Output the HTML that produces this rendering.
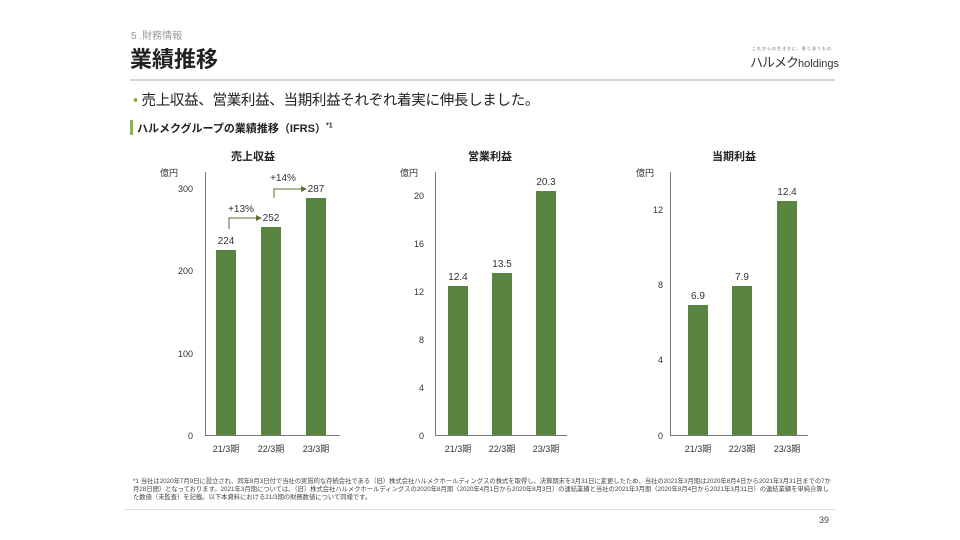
<!DOCTYPE html><html><head><meta charset="utf-8"><style>
body{margin:0;width:960px;height:540px;background:#fff;font-family:"Liberation Sans","Noto Sans CJK JP",sans-serif;position:relative;overflow:hidden}
.a{position:absolute;white-space:nowrap}
</style></head><body>
<div class="a" style="left:131px;top:27px;font-size:10px;color:#999">5 .財務情報</div>
<div class="a" style="left:130px;top:42px;font-size:22px;font-weight:bold;color:#222">業績推移</div>
<div class="a" style="left:752px;top:46px;font-size:4px;color:#666;letter-spacing:1px">これからの生き方に、寄り添うもの</div>
<div class="a" style="left:750px;top:52px;font-size:13px;color:#333;letter-spacing:-1px">ハルメク<span style="font-size:11px;letter-spacing:0">holdings</span></div>
<div class="a" style="left:130px;top:79px;width:705px;height:2px;background:#d5d5d5"></div>
<div class="a" style="left:133px;top:89px;font-size:14.5px;color:#222;letter-spacing:-0.3px"><span style="color:#8ab54a">•</span> 売上収益、営業利益、当期利益それぞれ着実に伸長しました。</div>
<div class="a" style="left:130px;top:120px;width:3px;height:15px;background:#8ab54a"></div>
<div class="a" style="left:137px;top:120px;font-size:11px;font-weight:bold;color:#222">ハルメクグループの業績推移（IFRS）<sup style="font-size:7px">*1</sup></div>
<svg class="a" style="left:0;top:0" width="960" height="540" font-family="Liberation Sans, Noto Sans CJK JP, sans-serif" font-size="10" fill="#333">
<g font-weight="bold" font-size="11" text-anchor="middle" fill="#222">
<text x="253" y="160">売上収益</text><text x="490" y="160">営業利益</text><text x="734" y="160">当期利益</text></g>
<g stroke="#777" stroke-width="1">
<line x1="205.5" y1="172" x2="205.5" y2="435"/><line x1="205" y1="435.5" x2="340" y2="435.5"/>
<line x1="435.5" y1="172" x2="435.5" y2="435"/><line x1="435" y1="435.5" x2="567" y2="435.5"/>
<line x1="670.5" y1="172" x2="670.5" y2="435"/><line x1="670" y1="435.5" x2="808" y2="435.5"/></g>
<g fill="#5a8540">
<rect x="216" y="250" width="20" height="185"/><rect x="261" y="227" width="20" height="208"/><rect x="306" y="198" width="20" height="237"/>
<rect x="448" y="286" width="20" height="149"/><rect x="492" y="273" width="20" height="162"/><rect x="536" y="191" width="20" height="244"/>
<rect x="688" y="305" width="20" height="130"/><rect x="732" y="286" width="20" height="149"/><rect x="777" y="201" width="20" height="234"/></g>
<g text-anchor="middle" font-size="10">
<text x="226" y="244">224</text><text x="271" y="221">252</text><text x="316" y="192">287</text>
<text x="458" y="280">12.4</text><text x="502" y="267">13.5</text><text x="546" y="185">20.3</text>
<text x="698" y="299">6.9</text><text x="742" y="280">7.9</text><text x="787" y="195">12.4</text>
<text x="241" y="212">+13%</text><text x="283" y="181">+14%</text></g>
<g stroke="#5a7030" fill="none"><polyline points="229,229 229,218 258,218"/><polyline points="274,198 274,189 303,189"/></g>
<g fill="#5a7030"><polygon points="262,218 256,215 256,221"/><polygon points="307,189 301,186 301,192"/></g>
<g text-anchor="middle" font-size="9">
<text x="226" y="452">21/3期</text><text x="271" y="452">22/3期</text><text x="316" y="452">23/3期</text>
<text x="458" y="452">21/3期</text><text x="502" y="452">22/3期</text><text x="546" y="452">23/3期</text>
<text x="698" y="452">21/3期</text><text x="742" y="452">22/3期</text><text x="787" y="452">23/3期</text></g>
<g text-anchor="end" font-size="9">
<text x="193" y="439">0</text><text x="193" y="357">100</text><text x="193" y="274">200</text><text x="193" y="192">300</text>
<text x="424" y="439">0</text><text x="424" y="391">4</text><text x="424" y="343">8</text><text x="424" y="295">12</text><text x="424" y="247">16</text><text x="424" y="199">20</text>
<text x="663" y="439">0</text><text x="663" y="363">4</text><text x="663" y="288">8</text><text x="663" y="213">12</text></g>
<g font-size="9"><text x="160" y="176">億円</text><text x="400" y="176">億円</text><text x="636" y="176">億円</text></g>
</svg>
<div class="a" style="left:133px;top:478px;font-size:6.3px;line-height:8px;color:#444;white-space:normal;width:700px">*1 当社は2020年7月9日に設立され、同年8月3日付で当社の実質的な存続会社である（旧）株式会社ハルメクホールディングスの株式を取得し、決算期末を3月31日に変更したため、当社の2021年3月期は2020年8月4日から2021年3月31日までの7か月28日間）となっております。2021年3月期については、（旧）株式会社ハルメクホールディングスの2020年8月期（2020年4月1日から2020年8月3日）の連結業績と当社の2021年3月期（2020年8月4日から2021年3月31日）の連結業績を単純合算した数値（未監査）を記載。以下本資料における21/3期の財務数値について同様です。</div>
<div class="a" style="left:125px;top:509px;width:710px;height:1px;background:#ddd"></div>
<div class="a" style="left:819px;top:515px;font-size:9px;color:#444">39</div>
</body></html>
